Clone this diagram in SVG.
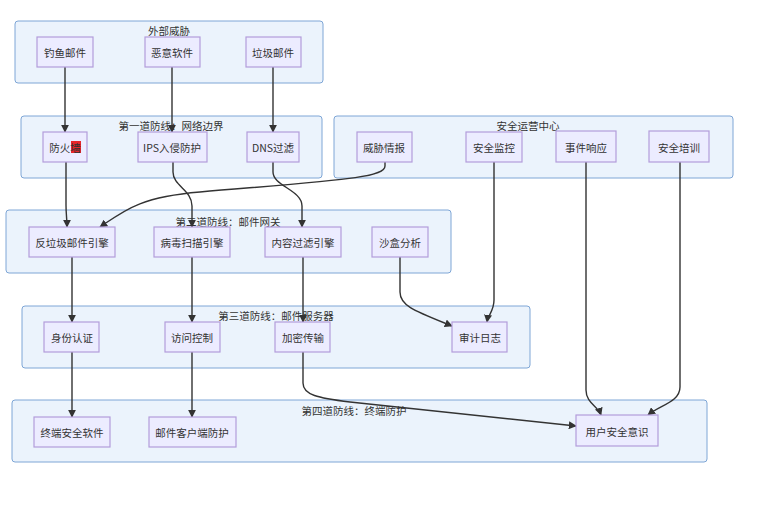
<svg xmlns="http://www.w3.org/2000/svg" width="773" height="510" viewBox="0 0 773 510">
<defs>
<style>
.bg{fill:#ffffff}
.cluster rect{fill:#ebf3fc;stroke:#7ea6d6;stroke-width:1}
.node rect{fill:#ececff;stroke:#b39ddb;stroke-width:1.2}
.node rect.hl{fill:#e8252a;stroke:none}
text{font-family:"Noto Sans CJK SC","Liberation Sans",sans-serif;font-size:10.5px;fill:#333;text-anchor:middle;dominant-baseline:central}
.edge{fill:none;stroke:#333;stroke-width:1.4}
</style>
<marker id="arr" viewBox="0 0 10 10" refX="9" refY="5" markerWidth="8" markerHeight="8" markerUnits="userSpaceOnUse" orient="auto">
<path d="M0,0 L10,5 L0,10 z" fill="#333"/>
</marker>
</defs>
<rect class="bg" x="0" y="0" width="773" height="510"/>

<g id="clusters">
<g id="c-external" class="cluster"><rect x="15" y="21" width="308" height="62" rx="3"/><text x="169" y="30">外部威胁</text></g>
<g id="c-first" class="cluster"><rect x="21" y="116" width="301" height="62" rx="3"/><text x="171" y="125">第一道防线：网络边界</text></g>
<g id="c-soc" class="cluster"><rect x="334" y="116" width="399" height="62" rx="3"/><text x="528" y="125">安全运营中心</text></g>
<g id="c-second" class="cluster"><rect x="6" y="210" width="445" height="63" rx="3"/><text x="228" y="221">第二道防线：邮件网关</text></g>
<g id="c-third" class="cluster"><rect x="22" y="306" width="508" height="62" rx="3"/><text x="276" y="315">第三道防线：邮件服务器</text></g>
<g id="c-fourth" class="cluster"><rect x="12" y="400" width="695" height="62" rx="3"/><text x="354" y="410">第四道防线：终端防护</text></g>
</g>

<g id="edges">
<path class="edge" marker-end="url(#arr)" d="M65,67 L65,132"/>
<path class="edge" marker-end="url(#arr)" d="M172,67 L172,132"/>
<path class="edge" marker-end="url(#arr)" d="M273,67 L273,132"/>
<path class="edge" marker-end="url(#arr)" d="M66,162 L66,205 C66,215 67,218 67,227"/>
<path class="edge" marker-end="url(#arr)" d="M173,162 L173,172 C173,186 192,190 192,206 L192,227"/>
<path class="edge" marker-end="url(#arr)" d="M273,162 L273,172 C273,186 302,190 302,206 L302,227"/>
<path class="edge" marker-end="url(#arr)" d="M385,162 L385,166 C385,178 340,180 200,192 C140,197 125,210 100,227"/>
<path class="edge" marker-end="url(#arr)" d="M72,257 L72,322"/>
<path class="edge" marker-end="url(#arr)" d="M192,257 L192,322"/>
<path class="edge" marker-end="url(#arr)" d="M303,257 L303,322"/>
<path class="edge" marker-end="url(#arr)" d="M400,257 L400,292 C400,306 415,311 452,326"/>
<path class="edge" marker-end="url(#arr)" d="M494,162 L494,300 C494,311 488,315 487,322"/>
<path class="edge" marker-end="url(#arr)" d="M72,352 L72,417"/>
<path class="edge" marker-end="url(#arr)" d="M192,352 L192,417"/>
<path class="edge" marker-end="url(#arr)" d="M303,352 L303,383 C303,395 318,398 350,402 L576,426"/>
<path class="edge" marker-end="url(#arr)" d="M586,162 L586,390 C586,403 598,406 601,415"/>
<path class="edge" marker-end="url(#arr)" d="M680,162 L680,387 C680,402 660,405 648,415"/>
</g>

<g id="n-phishing" class="node"><rect x="37" y="37" width="56" height="30"/><text x="65" y="52">钓鱼邮件</text></g>
<g id="n-malware" class="node"><rect x="145" y="37" width="55" height="30"/><text x="172" y="52">恶意软件</text></g>
<g id="n-spam" class="node"><rect x="246" y="37" width="55" height="30"/><text x="273" y="52">垃圾邮件</text></g>

<g id="n-firewall" class="node"><rect x="43" y="132" width="44" height="30"/><rect class="hl" x="71" y="141" width="10" height="12"/><text x="65" y="147">防火墙</text></g>
<g id="n-ips" class="node"><rect x="138" y="132" width="69" height="30"/><text x="172" y="147">IPS入侵防护</text></g>
<g id="n-dns" class="node"><rect x="247" y="132" width="52" height="30"/><text x="273" y="147">DNS过滤</text></g>

<g id="n-intel" class="node"><rect x="357" y="132" width="55" height="30"/><text x="384" y="147">威胁情报</text></g>
<g id="n-monitor" class="node"><rect x="466" y="132" width="56" height="30"/><text x="494" y="147">安全监控</text></g>
<g id="n-response" class="node"><rect x="556" y="131" width="60" height="31"/><text x="586" y="147">事件响应</text></g>
<g id="n-training" class="node"><rect x="649" y="131" width="60" height="31"/><text x="679" y="147">安全培训</text></g>

<g id="n-antispam" class="node"><rect x="29" y="227" width="86" height="30"/><text x="72" y="242">反垃圾邮件引擎</text></g>
<g id="n-antivirus" class="node"><rect x="154" y="227" width="76" height="30"/><text x="192" y="242">病毒扫描引擎</text></g>
<g id="n-content" class="node"><rect x="265" y="227" width="76" height="30"/><text x="303" y="242">内容过滤引擎</text></g>
<g id="n-sandbox" class="node"><rect x="372" y="227" width="56" height="30"/><text x="400" y="242">沙盒分析</text></g>

<g id="n-auth" class="node"><rect x="44" y="322" width="55" height="30"/><text x="72" y="337">身份认证</text></g>
<g id="n-access" class="node"><rect x="165" y="322" width="55" height="30"/><text x="192" y="337">访问控制</text></g>
<g id="n-encrypt" class="node"><rect x="275" y="322" width="55" height="30"/><text x="303" y="337">加密传输</text></g>
<g id="n-audit" class="node"><rect x="452" y="322" width="55" height="30"/><text x="480" y="337">审计日志</text></g>

<g id="n-endpoint" class="node"><rect x="34" y="417" width="76" height="30"/><text x="72" y="432">终端安全软件</text></g>
<g id="n-client" class="node"><rect x="149" y="417" width="87" height="30"/><text x="192" y="432">邮件客户端防护</text></g>
<g id="n-awareness" class="node"><rect x="576" y="415" width="82" height="31"/><text x="617" y="431">用户安全意识</text></g>
</svg>
